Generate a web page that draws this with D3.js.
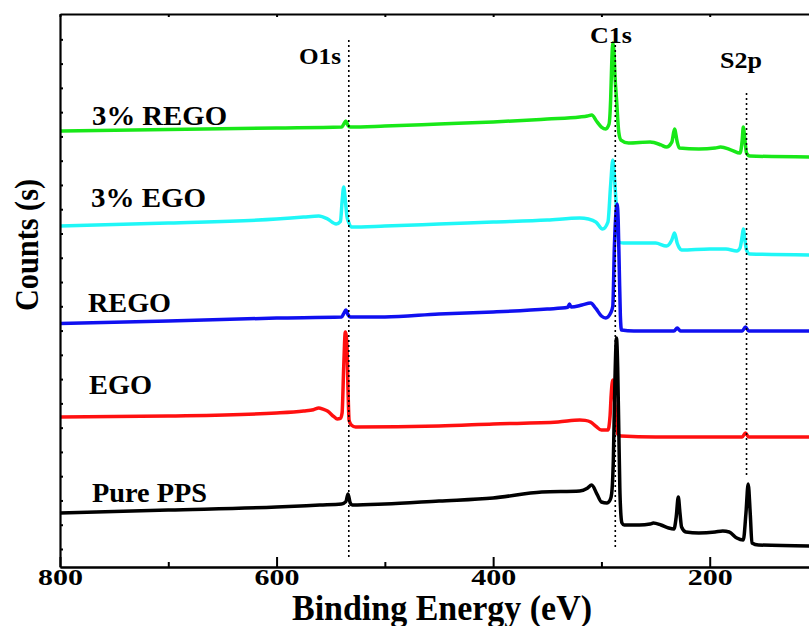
<!DOCTYPE html>
<html>
<head>
<meta charset="utf-8">
<script src="https://cdn.jsdelivr.net/npm/d3@7"></script>
<style>
  html, body { margin: 0; padding: 0; background: #fff; overflow: hidden; }
  svg { display: block; }
</style>
</head>
<body>
<svg id="chart" width="809" height="626"></svg>
<script>
// binding energy (eV) vs counts
const purePPS = [[800, 2483], [700, 2606], [600, 2730], [560, 2812], [540, 2854], [536, 2950], [534, 3266], [532, 2900],
  [530, 2812], [500, 2854], [450, 2977], [400, 3101], [355, 3348], [320, 3390], [313, 3500], [309, 3636], [304, 3250],
  [300, 2936], [295, 2895], [292, 3018], [290.5, 3300], [289, 4666], [287.5, 8000], [286.1, 9693], [285, 8500],
  [284, 6000], [283, 3500], [282, 2400], [281, 2071], [279, 1988], [265, 1988], [255, 2030], [252, 2071], [245, 1988],
  [238, 1865], [233, 1824], [231, 2300], [229, 3142], [227.5, 2500], [226, 1906], [222, 1700], [210, 1659], [195, 1700],
  [188, 1741], [182, 1700], [175, 1453], [169, 1370], [166.5, 2500], [164.5, 3678], [162.5, 2400], [161, 1247],
  [155, 1164], [100, 1123]];

const ego = [[800, 6438], [700, 6479], [600, 6603], [575, 6685], [566, 6740], [561, 6809], [557, 6760], [553, 6685],
  [547, 6450], [544, 6356], [541, 6380], [539.5, 6600], [538, 8500], [536.5, 9940], [535, 9404], [534, 7500],
  [533, 6300], [531, 6108], [527, 6026], [450, 6067], [400, 6150], [340, 6232], [320, 6314], [315, 6300], [310, 6232],
  [305, 6050], [300, 5902], [294, 5902], [292, 6500], [291, 7344], [289.5, 7962], [287.5, 6932], [285, 5738],
  [282, 5655], [250, 5614], [200, 5614], [170, 5614], [167, 5779], [164, 5614], [100, 5614]];

const rego = [[800, 10290], [700, 10393], [600, 10517], [540, 10558], [538, 10700], [536, 10846], [534, 10650],
  [532, 10558], [500, 10558], [450, 10682], [400, 10764], [350, 10888], [331, 10960], [329.5, 11094], [328, 10970],
  [318, 11050], [310, 11135], [305, 10900], [300, 10599], [296, 10517], [291.5, 10723], [289.5, 11000], [288, 13500],
  [286.5, 14900], [285.5, 15214], [284.5, 14500], [283.5, 12500], [282.5, 10600], [281.5, 10022], [270, 9981],
  [233, 9981], [230, 10105], [227, 9981], [170, 9981], [167, 10146], [164, 9981], [100, 9981]];

const ego3 = [[800, 14307], [700, 14431], [600, 14596], [575, 14678], [561, 14719], [553, 14600], [545, 14390],
  [541, 14500], [539.5, 15300], [538, 15914], [536.5, 15378], [535, 14700], [533.5, 14472], [531, 14266],
  [500, 14307], [450, 14390], [400, 14472], [350, 14554], [320, 14637], [312, 14600], [305, 14472], [299, 14184],
  [294, 14472], [291.5, 15996], [289.5, 17026], [287.5, 15996], [285.5, 14554], [284, 13648], [280, 13607],
  [250, 13607], [240, 13483], [235, 13730], [232.5, 14019], [230, 13600], [228, 13400], [226, 13318], [200, 13360],
  [185, 13360], [175, 13277], [172, 13401], [170, 13895], [169, 14184], [167.5, 13730], [166, 13318], [163, 13154],
  [100, 13112]];

const rego3 = [[800, 18221], [700, 18283], [600, 18345], [540, 18386], [538, 18500], [536, 18633], [534, 18450],
  [532, 18386], [500, 18427], [450, 18510], [400, 18592], [350, 18716], [320, 18798], [313, 18840], [309, 18880],
  [304, 18600], [300, 18386], [296, 18304], [293, 18500], [291.5, 19500], [290.5, 21000], [289.5, 21847],
  [288.5, 21558], [287.5, 20500], [286, 19498], [284, 18180], [282, 17850], [275, 17727], [255, 17768], [245, 17650],
  [240, 17562], [235, 17768], [232.5, 18304], [230, 17768], [228, 17521], [210, 17480], [195, 17520], [190, 17562],
  [180, 17438], [172, 17315], [170, 17850], [169, 18386], [167.5, 17850], [166, 17315], [163, 17191], [100, 17150]];

const seriesNames = ['3% REGO', '3% EGO', 'REGO', 'EGO', 'Pure PPS'];
const seriesData = [rego3, ego3, rego, ego, purePPS];
const seriesColors = ['#18e818', '#1ff7f7', '#1010f0', '#ff1010', '#000000'];

const peakNames = ['O1s', 'C1s', 'S2p'];
const peakEnergies = [533.3, 287.2, 166.0];
const guideTop = [21970, 21764, 19787];
const guideBottom = [588, 1000, 3925];

const majorTicks = [800, 600, 400, 200];
const minorTicks = [700, 500, 300];
const countTicks = d3.range(1000, 22001, 1000);

const font = "'Liberation Serif', 'Times New Roman', serif";

const svg = d3.select('#chart');

const x = d3.scaleLinear().domain([800, 100]).range([60, 818]);
const y = d3.scaleLinear().domain([258, 23044]).range([567, 14]);

// spectra, top curve first so black ends on top
const line = d3.line()
  .x(d => x(d[0]))
  .y(d => y(d[1]))
  .curve(d3.curveMonotoneX);

svg.append('g')
  .selectAll('path')
  .data(seriesData)
  .enter()
  .append('path')
  .attr('d', line)
  .attr('fill', 'none')
  .attr('stroke', (d, i) => seriesColors[i])
  .attr('stroke-width', 3.5)
  .attr('stroke-linejoin', 'round');

// dotted guides
svg.append('g')
  .selectAll('line')
  .data(peakEnergies)
  .enter()
  .append('line')
  .attr('x1', d => x(d))
  .attr('x2', d => x(d))
  .attr('y1', (d, i) => y(guideTop[i]))
  .attr('y2', (d, i) => y(guideBottom[i]))
  .attr('stroke', '#000')
  .attr('stroke-width', 1.6)
  .attr('stroke-dasharray', '2,3');

// axes
function styleAxis(g) {
  g.select('.domain').attr('stroke-width', 2.2);
  g.selectAll('.tick line').attr('stroke-width', 2);
}

svg.append('g')
  .attr('transform', 'translate(0,567)')
  .call(d3.axisBottom(x).tickValues(minorTicks.concat([100])).tickSize(-5).tickSizeOuter(0).tickFormat(''))
  .call(styleAxis);

const bottom = svg.append('g')
  .attr('transform', 'translate(0,567)')
  .call(d3.axisBottom(x).tickValues(majorTicks).tickSize(-10).tickSizeOuter(0))
  .call(styleAxis);

bottom.selectAll('.tick text')
  .attr('y', 18)
  .attr('dy', null)
  .attr('fill', '#000')
  .attr('textLength', 45)
  .attr('lengthAdjust', 'spacingAndGlyphs')
  .style('font-family', font)
  .style('font-size', '24px')
  .style('font-weight', 'bold');

svg.append('g')
  .attr('transform', 'translate(0,14)')
  .call(d3.axisTop(x).tickValues(majorTicks.concat(minorTicks)).tickSize(-3).tickSizeOuter(0).tickFormat(''))
  .call(styleAxis);

svg.append('g')
  .attr('transform', 'translate(60,0)')
  .call(d3.axisLeft(y).tickValues(countTicks).tickSize(-3).tickSizeOuter(0).tickFormat(''))
  .call(styleAxis);

// texts
const labelPos = [[92, 125, 135], [91, 207, 115], [88, 312, 83], [89, 394, 63], [92, 502, 115]];
svg.append('g')
  .selectAll('text')
  .data(seriesNames)
  .enter()
  .append('text')
  .attr('x', (d, i) => labelPos[i][0])
  .attr('y', (d, i) => labelPos[i][1])
  .attr('textLength', (d, i) => labelPos[i][2])
  .attr('lengthAdjust', 'spacingAndGlyphs')
  .attr('font-family', font)
  .attr('font-size', 27)
  .attr('font-weight', 'bold')
  .text(d => d);

const peakPos = [[320, 64], [611, 43], [741, 68]];
svg.append('g')
  .selectAll('text')
  .data(peakNames)
  .enter()
  .append('text')
  .attr('x', (d, i) => peakPos[i][0])
  .attr('y', (d, i) => peakPos[i][1])
  .attr('text-anchor', 'middle')
  .attr('textLength', 42)
  .attr('lengthAdjust', 'spacingAndGlyphs')
  .attr('font-family', font)
  .attr('font-size', 23)
  .attr('font-weight', 'bold')
  .text(d => d);

svg.append('text')
  .attr('x', 442)
  .attr('y', 620)
  .attr('text-anchor', 'middle')
  .attr('textLength', 300)
  .attr('lengthAdjust', 'spacingAndGlyphs')
  .attr('font-family', font)
  .attr('font-size', 35)
  .attr('font-weight', 'bold')
  .text('Binding Energy (eV)');

svg.append('text')
  .attr('transform', 'translate(38,245) rotate(-90)')
  .attr('text-anchor', 'middle')
  .attr('textLength', 132)
  .attr('lengthAdjust', 'spacingAndGlyphs')
  .attr('font-family', font)
  .attr('font-size', 33)
  .attr('font-weight', 'bold')
  .text('Counts (s)');
</script>
</body>
</html>
